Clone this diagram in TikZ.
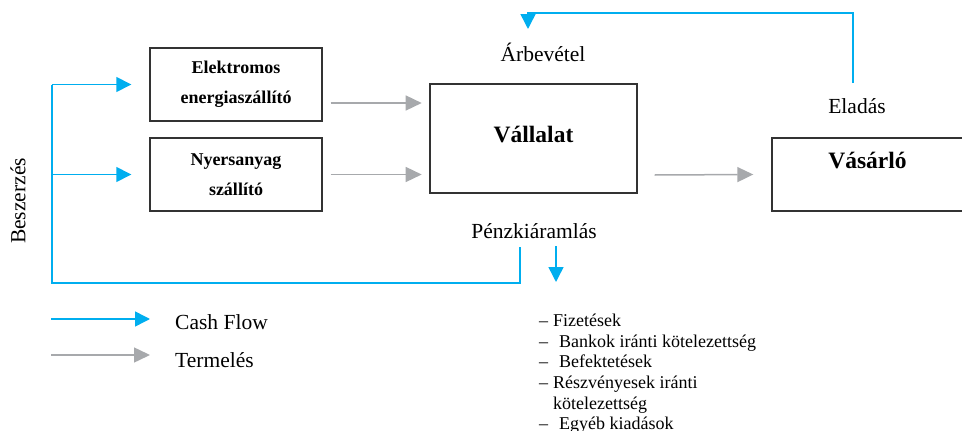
\documentclass[tikz,border=0pt]{standalone}
\usepackage{fontspec}
\setmainfont{Liberation Serif}
\usetikzlibrary{arrows.meta,calc}
\definecolor{cfblue}{HTML}{00AEEF}
\definecolor{prodgray}{HTML}{A7A9AC}
\definecolor{boxline}{HTML}{333333}
\begin{document}
\begin{tikzpicture}[x=1pt,y=-1pt,
  box/.style={draw=boxline,line width=1.4pt,inner sep=0pt},
  cfl/.style={draw=cfblue,line width=1.5pt},
  cfa/.style={cfl,-{Triangle[length=15pt,width=15pt]}},
  pra/.style={draw=prodgray,line width=1.5pt,-{Triangle[length=16pt,width=15pt]}},
  suptext/.style={font=\fontsize{18}{30}\selectfont\bfseries,align=center},
  bigtext/.style={font=\fontsize{23.5}{26}\selectfont\bfseries,inner sep=0pt},
  lbl/.style={font=\fontsize{21.5}{24}\selectfont,inner sep=0pt},
]
\useasboundingbox (0,0) rectangle (962,431);

% boxes
\node[box,minimum width=172pt,minimum height=73pt,suptext] (elek) at (236,84.5) {Elektromos\\energiaszállító};
\node[box,minimum width=172pt,minimum height=73pt,suptext] (nyers) at (236,174.5) {Nyersanyag\\szállító};
\node[box,minimum width=207pt,minimum height=109pt] (vall) at (533.5,138.5) {};
\node[bigtext] (valltxt) at ([yshift=3.5pt]vall.center) {Vállalat};
\node[box,minimum width=191pt,minimum height=73pt] (vas) at (867.5,174.5) {};
\node[bigtext] (vastxt) at ([yshift=14pt]vas.center) {Vásárló};

% labels
\node[lbl] (arb) at (543,52) {Árbevétel};
\node[lbl] (elad) at (857,106) {Eladás};
\node[lbl] (penz) at (534,231) {Pénzkiáramlás};
\node[lbl,rotate=90] (besz) at (18,201) {Beszerzés};

% production arrows
\draw[pra] ([xshift=8pt,yshift=-18.5pt]elek.east) -- ++(91,0);
\draw[pra] ([xshift=8pt]nyers.east) -- ++(91,0);
\draw[pra] ([xshift=17pt,yshift=-36.5pt]vall.east) -- ([xshift=-18pt]vas.west);

% cash flow: purchasing loop
\coordinate (trunktop) at (52,84.5);
\coordinate (trunkmid) at (52,174.5);
\coordinate (trunkbot) at (52,283);
\coordinate (outjoin) at (520,283);
\coordinate (outtop) at (520,247);
\draw[cfl] (trunktop) -- (trunkbot) -- (outjoin) -- (outtop);
\draw[cfa] (trunktop) -- ([xshift=-18pt]elek.west);
\draw[cfa] (trunkmid) -- ([xshift=-18pt]nyers.west);

% cash outflow arrow
\coordinate (downstart) at (556,246);
\coordinate (downend) at (556,282);
\draw[cfa] (downstart) -- (downend);

% sales / revenue loop
\coordinate (salestart) at (853,83);
\coordinate (saletop) at (853,13);
\coordinate (revtop) at (528,13);
\coordinate (revend) at (528,29);
\draw[cfa] (salestart) -- (saletop) -- (revtop) -- (revend);

% legend
\node[lbl,anchor=west] (cftxt) at (175,322) {Cash Flow};
\node[lbl,anchor=west] (prtxt) at (175,360) {Termelés};
\coordinate (cfstart) at (51,319);
\coordinate (prstart) at (51,355);
\draw[cfa] (cfstart) -- (cfstart -| {$(cftxt.west)+(-25,0)$});
\draw[pra] (prstart) -- (prstart -| {$(prtxt.west)+(-25,0)$});

% list
\node[anchor=north west,inner sep=0pt,align=left,font=\fontsize{18}{20.7}\selectfont] (list) at (539,313.7)
{–\hspace{5pt}Fizetések\\
–\hspace{11pt}Bankok iránti kötelezettség\\
–\hspace{11pt}Befektetések\\
–\hspace{5pt}Részvényesek iránti\\
\hspace*{14pt}kötelezettség\\
–\hspace{11pt}Egyéb kiadások};
\end{tikzpicture}
\end{document}
